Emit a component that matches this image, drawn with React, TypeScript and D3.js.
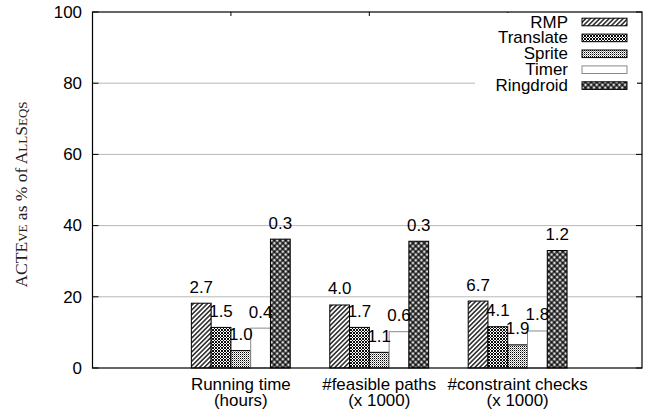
import React from "react";
import * as d3 from "d3";

const categoryLine1 = ["Running time", "#feasible paths", "#constraint checks"];
const categoryLine2 = ["(hours)", "(x 1000)", "(x 1000)"];
const seriesNames = ["RMP", "Translate", "Sprite", "Timer", "Ringdroid"];
const rmpValues = [18.2, 17.7, 18.8];
const translateValues = [11.4, 11.4, 11.6];
const spriteValues = [4.9, 4.4, 6.5];
const timerValues = [11.2, 10.2, 10.4];
const ringdroidValues = [36.2, 35.6, 33.0];
const rmpLabels = ["2.7", "4.0", "6.7"];
const translateLabels = ["1.5", "1.7", "4.1"];
const spriteLabels = ["1.0", "1.1", "1.9"];
const timerLabels = ["0.4", "0.6", "1.8"];
const ringdroidLabels = ["0.3", "0.3", "1.2"];
const yTicks = [0, 20, 40, 60, 80, 100];
const gridTicks = [20, 40, 60, 80];

const seriesValues = [rmpValues, translateValues, spriteValues, timerValues, ringdroidValues];
const seriesLabels = [rmpLabels, translateLabels, spriteLabels, timerLabels, ringdroidLabels];
const fills = ["url(#pRMP)", "url(#pTrans)", "url(#pSprite)", "#ffffff", "url(#pRing)"];
const strokes = ["#000", "#000", "#000", "#8a8a8a", "#000"];

const W = 654, H = 413;
const L = 92.5, R = 642, T = 12, B = 368;
const SANS = "'Liberation Sans', Arial, Helvetica, sans-serif";
const SX = 1.06;

function ST({ x, y, anchor, size = 16, children }: any) {
  return (
    <text
      transform={`translate(${x},${y}) scale(${SX},1)`}
      textAnchor={anchor || "start"}
      fontFamily={SANS}
      fontSize={size}
      fill="#000"
    >
      {children}
    </text>
  );
}

export default function App() {
  const x = d3.scaleLinear().domain([-1, 2.97]).range([L, R]);
  const y = d3.scaleLinear().domain([0, 100]).range([B, T]);
  const unit = x(1) - x(0);
  const bw = unit / 7;

  const legendY = d3.scaleLinear().domain([0, 4]).range([22, 85.6]);

  return (
    <svg
      width={W}
      height={H}
      style={{ position: "absolute", left: 0, top: 0, background: "#fff" }}
    >
      <defs>
        <pattern id="pRMP" width="3.3" height="3.3" patternUnits="userSpaceOnUse" patternTransform="rotate(45)">
          <rect width="3.3" height="3.3" fill="#fff" />
          <line x1="1.65" y1="0" x2="1.65" y2="3.3" stroke="#000" strokeWidth="1.3" />
        </pattern>
        <pattern id="pTrans" width="3" height="3" patternUnits="userSpaceOnUse">
          <rect width="3" height="3" fill="#fff" />
          <path d="M0,3 L3,0 M0,0 L3,3 M-1,1 L1,-1 M2,4 L4,2 M-1,2 L1,4 M2,-1 L4,1" stroke="#000" strokeWidth="0.95" />
        </pattern>
        <pattern id="pSprite" width="2" height="2" patternUnits="userSpaceOnUse">
          <rect width="2" height="2" fill="#fff" />
          <rect x="0" y="0" width="1" height="1" fill="#000" />
          <rect x="1" y="1" width="1" height="1" fill="#999" />
        </pattern>
        <pattern id="pRing" width="4" height="4" patternUnits="userSpaceOnUse" patternTransform="rotate(45)">
          <rect width="4" height="4" fill="#000" />
          <rect x="0.7" y="0.7" width="2.6" height="2.6" fill="#fff" />
          <rect x="1.6" y="1.6" width="0.8" height="0.8" fill="#000" />
        </pattern>
      </defs>
      <rect width={W} height={H} fill="#fff" />

      {gridTicks.map((t) => (
        <line key={"g" + t} x1={L} x2={R} y1={y(t)} y2={y(t)} stroke="#b8b8b8" strokeWidth={1} />
      ))}

      {yTicks.map((t) => (
        <g key={"yt" + t}>
          <line x1={L} x2={L + 6} y1={y(t)} y2={y(t)} stroke="#000" />
          <line x1={R - 6} x2={R} y1={y(t)} y2={y(t)} stroke="#000" />
          <ST x={82} y={y(t) + 5.8} anchor="end">{t}</ST>
        </g>
      ))}

      {categoryLine1.map((c, i) => (
        <g key={"xt" + i}>
          <line x1={x(i)} x2={x(i)} y1={T} y2={T + 4} stroke="#000" />
          <line x1={x(i)} x2={x(i)} y1={B} y2={B - 4} stroke="#000" />
        </g>
      ))}

      {seriesValues.map((vals, s) =>
        vals.map((v, i) => {
          const x0 = x(i) + (s - 2) * bw;
          return (
            <rect
              key={`b${s}-${i}`}
              x={x0}
              y={y(v)}
              width={bw}
              height={y(0) - y(v)}
              fill={fills[s]}
              stroke={strokes[s]}
              strokeWidth={1}
            />
          );
        })
      )}

      {seriesLabels.map((labs, s) =>
        labs.map((lab, i) => {
          const cx = x(i) + (s - 2) * bw + bw / 2;
          return (
            <ST key={`l${s}-${i}`} x={cx} y={y(seriesValues[s][i]) - 10.5} anchor="middle">
              {lab}
            </ST>
          );
        })
      )}

      <rect x={L} y={T} width={R - L} height={B - T} fill="none" stroke="#000" strokeWidth={1.2} />

      <rect x={475} y={T + 1} width={162} height={84} fill="#fff" />
      {seriesNames.map((n, s) => {
        const cy = legendY(s);
        return (
          <g key={"lg" + s}>
            <ST x={568} y={cy + 5.5} anchor="end">{n}</ST>
            <rect x={582} y={cy - 3.8} width={45} height={7.6} fill={fills[s]} stroke={strokes[s]} strokeWidth={1} />
          </g>
        );
      })}

      {categoryLine1.map((c, i) => (
        <g key={"cl" + i}>
          <ST x={x(i) + bw / 2} y={389.5} anchor="middle">{c}</ST>
          <ST x={x(i) + bw / 2} y={405.5} anchor="middle">{categoryLine2[i]}</ST>
        </g>
      ))}

      <text
        transform={`translate(27,194.5) rotate(-90)`}
        textAnchor="middle"
        fontFamily="'Liberation Serif', 'Times New Roman', serif"
        fontSize={17.5}
        fill="#222"
      >
        ACTE<tspan fontSize={13}>VE</tspan> as % of A<tspan fontSize={13}>LL</tspan>S<tspan fontSize={13}>EQS</tspan>
      </text>
    </svg>
  );
}
